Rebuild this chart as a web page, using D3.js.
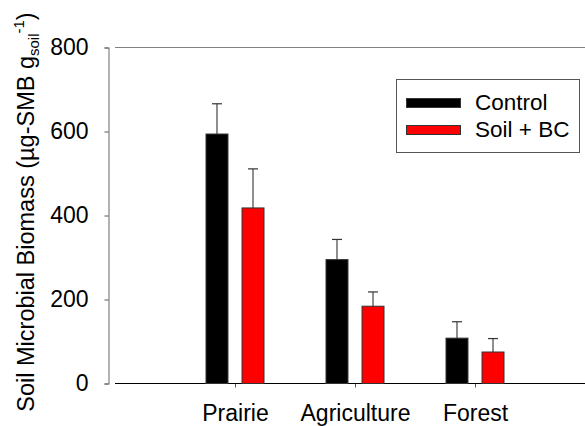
<!DOCTYPE html>
<html><head><meta charset="utf-8">
<script src="https://cdn.jsdelivr.net/npm/d3@7"></script>
<style>body{margin:0;background:#fff}svg{display:block;font-family:"Liberation Sans",Arial,sans-serif}</style>
</head><body>
<svg id="c" width="585" height="426"></svg>
<script>
const categories = ["Prairie", "Agriculture", "Forest"];
const seriesNames = ["Control", "Soil + BC"];
const seriesColors = ["#000000", "#ff0000"];
const controlMean = [594, 295, 108];
const controlErr = [72, 48, 39];
const bcMean = [418, 184, 75];
const bcErr = [93, 34, 32];
const yTicks = [0, 200, 400, 600, 800];

const FONT = "Liberation Sans, Arial, sans-serif";
const svg = d3.select("#c");
const y = d3.scaleLinear().domain([0, 800]).range([383.5, 47.5]);
const x = d3.scalePoint().domain(categories).range([235, 475]);
const sub = d3.scaleBand().domain(seriesNames).range([-29, 29]).paddingInner(0.39);

// top frame line
svg.append("line").attr("x1", 115).attr("x2", 585).attr("y1", y(800)).attr("y2", y(800))
  .attr("stroke", "#808080").attr("stroke-width", 1.2);

// y axis
const yAx = svg.append("g").attr("transform", "translate(108.5,0)")
  .call(d3.axisLeft(y).tickValues(yTicks).tickSize(4).tickPadding(16).tickFormat(d3.format("d")));
yAx.attr("font-size", null).attr("font-family", null);
yAx.select(".domain").attr("stroke", "#808080").attr("stroke-width", 1.2);
yAx.selectAll(".tick line").attr("stroke", "#555");
yAx.selectAll("text").style("font-size", "23px").attr("fill", "#000").style("font-family", FONT);

// x axis
const xAx = svg.append("g").attr("transform", `translate(0,${y(0)})`)
  .call(d3.axisBottom(x).tickSize(4).tickPadding(17));
xAx.attr("font-size", null).attr("font-family", null);
xAx.select(".domain").remove();
svg.append("line").attr("x1", 115).attr("x2", 585).attr("y1", y(0)).attr("y2", y(0)).attr("stroke", "#000").attr("stroke-width", 1.2);
xAx.selectAll(".tick line").attr("stroke", "#555");
xAx.selectAll("text").style("font-size", "23px").attr("fill", "#000").style("font-family", FONT);

const series = [
  {name: seriesNames[0], color: seriesColors[0], mean: controlMean, err: controlErr},
  {name: seriesNames[1], color: seriesColors[1], mean: bcMean, err: bcErr}
];

series.forEach(s => {
  const g = svg.append("g");
  const cx = (i) => x(categories[i]) + sub(s.name);
  categories.forEach((c, i) => {
    const xm = cx(i) + sub.bandwidth() / 2;
    g.append("line").attr("x1", xm).attr("x2", xm).attr("y1", y(s.mean[i])).attr("y2", y(s.mean[i] + s.err[i]))
      .attr("stroke", "#444").attr("stroke-width", 1.2);
    g.append("line").attr("x1", xm - 5).attr("x2", xm + 5).attr("y1", y(s.mean[i] + s.err[i])).attr("y2", y(s.mean[i] + s.err[i]))
      .attr("stroke", "#333").attr("stroke-width", 1.2);
  });
  g.selectAll("rect").data(s.mean).join("rect")
    .attr("x", (d, i) => cx(i)).attr("width", sub.bandwidth())
    .attr("y", d => y(d)).attr("height", d => y(0) - y(d))
    .attr("fill", s.color).attr("stroke", "#333").attr("stroke-width", 1);
});

// legend
const lg = svg.append("g");
lg.append("rect").attr("x", 396.5).attr("y", 79.5).attr("width", 183).attr("height", 73)
  .attr("fill", "#fff").attr("stroke", "#555").attr("stroke-width", 1);
series.forEach((s, i) => {
  const yy = 98 + i * 27;
  lg.append("rect").attr("x", 406.5).attr("y", yy + 0.5).attr("width", 54).attr("height", 9)
    .attr("fill", s.color).attr("stroke", "#333").attr("stroke-width", 1);
  lg.append("text").attr("x", 475).attr("y", yy + 11.5).style("font-size", "22.5px").text(s.name);
});

// y label
const yl = svg.append("text").attr("transform", "translate(34,212) rotate(-90)")
  .attr("text-anchor", "middle").style("font-size", "23.5px");
yl.append("tspan").text("Soil Microbial Biomass (\u00b5g-SMB g");
yl.append("tspan").style("font-size", "15px").attr("dy", 5).text("soil");
yl.append("tspan").style("font-size", "15px").attr("dy", -15).text("-1");
yl.append("tspan").attr("dy", 10).text(")");
</script>
</body></html>
